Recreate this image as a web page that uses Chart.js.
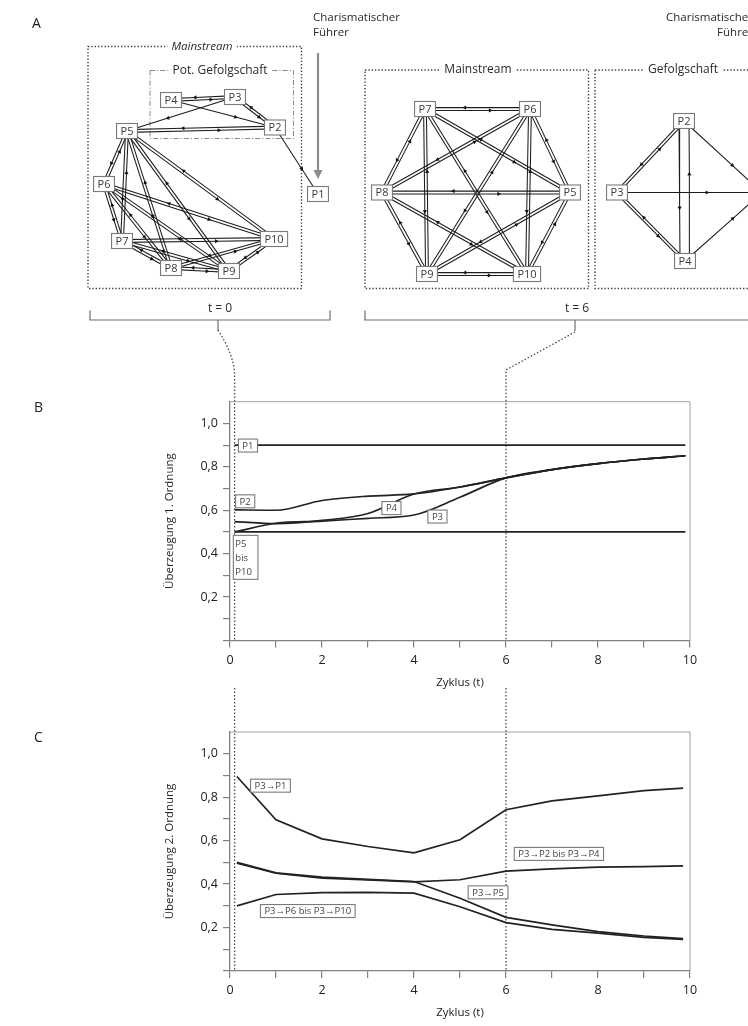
<!DOCTYPE html>
<html>
<head>
<meta charset="utf-8">
<script src="https://cdn.jsdelivr.net/npm/chart.js@4.4.1/dist/chart.umd.min.js"></script>
<style>
body { margin: 0; background: #fff; }
#page { position: relative; width: 748px; height: 1026px; overflow: hidden; }
canvas { position: absolute; left: 0; }
</style>
</head>
<body>
<div id="page">
<canvas id="netA" width="748" height="340" style="top:0px"></canvas>
<canvas id="chartB" width="748" height="380" style="top:320px"></canvas>
<canvas id="chartC" width="748" height="346" style="top:680px"></canvas>
</div>
<script>
Chart.defaults.font.family = "'Open Sans', 'DejaVu Sans', sans-serif";
Chart.defaults.color = '#2a2a2a';

// ---------- panel A: network at t = 0 ----------
const t0Names = ['P1', 'P2', 'P3', 'P4', 'P5', 'P6', 'P7', 'P8', 'P9', 'P10'];
const t0X = [318, 275, 235, 171, 127, 104, 122, 171, 229, 274];
const t0Y = [194, 127.5, 97, 100, 131, 184, 241, 268, 271, 239];
const t0Double = [
    ['P4', 'P3'], ['P3', 'P2'], ['P5', 'P2'],
    ['P5', 'P6'], ['P5', 'P7'], ['P5', 'P8'], ['P5', 'P9'], ['P5', 'P10'],
    ['P6', 'P7'], ['P6', 'P8'], ['P6', 'P9'], ['P6', 'P10'],
    ['P7', 'P8'], ['P7', 'P9'], ['P7', 'P10'],
    ['P8', 'P9'], ['P8', 'P10'], ['P9', 'P10']
];
const t0Single = [['P4', 'P2'], ['P3', 'P5'], ['P2', 'P1']];

// ---------- panel A: network at t = 6 ----------
const t6Names = ['P1', 'P2', 'P3', 'P4', 'P5', 'P6', 'P7', 'P8', 'P9', 'P10'];
const t6X = [762, 684, 617, 685, 570, 530, 425, 382, 427, 527];
const t6Y = [192.5, 121, 192.5, 261, 192.5, 109, 109, 192.5, 274, 274];
const t6Double = [
    ['P7', 'P6'], ['P7', 'P8'], ['P7', 'P5'], ['P7', 'P9'], ['P7', 'P10'],
    ['P6', 'P8'], ['P6', 'P5'], ['P6', 'P9'], ['P6', 'P10'],
    ['P8', 'P5'], ['P8', 'P9'], ['P8', 'P10'],
    ['P5', 'P9'], ['P5', 'P10'], ['P9', 'P10'],
    ['P3', 'P2'], ['P3', 'P4'], ['P2', 'P4']
];
const t6Single = [['P3', 'P1'], ['P2', 'P1'], ['P4', 'P1']];
const wideEdges = ['P2-P4'];

// ---------- panel B: Überzeugung 1. Ordnung ----------
const cyclesB = [0.1, 1, 2, 3, 4, 5, 6, 7, 8, 9, 9.9];
const p1B = [0.9, 0.9, 0.9, 0.9, 0.9, 0.9, 0.9, 0.9, 0.9, 0.9, 0.9];
const p2B = [0.602, 0.6, 0.645, 0.665, 0.675, 0.707, 0.749, 0.787, 0.815, 0.836, 0.851];
const p3B = [0.5, 0.54, 0.55, 0.563, 0.578, 0.66, 0.749, 0.787, 0.815, 0.836, 0.851];
const p4B = [0.548, 0.538, 0.553, 0.585, 0.675, 0.707, 0.749, 0.787, 0.815, 0.836, 0.851];
const p5to10B = [0.5, 0.5, 0.5, 0.5, 0.5, 0.5, 0.5, 0.5, 0.5, 0.5, 0.5];
const tagsB = ['P1', 'P2', 'P4', 'P3', 'P5\nbis\nP10'];
const tagsBT = [0.39, 0.33, 3.51, 4.51, 0.34];
const tagsBV = [0.898, 0.641, 0.61, 0.571, 0.383];

// ---------- panel C: Überzeugung 2. Ordnung ----------
const cyclesC = [0.15, 1, 2, 3, 4, 5, 6, 7, 8, 9, 9.85];
const p3p1C = [0.895, 0.696, 0.608, 0.573, 0.544, 0.604, 0.742, 0.783, 0.806, 0.83, 0.842];
const p3p2to4C = [0.496, 0.45, 0.427, 0.419, 0.41, 0.42, 0.46, 0.47, 0.478, 0.48, 0.484];
const p3p5C = [0.5, 0.452, 0.432, 0.422, 0.412, 0.335, 0.247, 0.212, 0.181, 0.161, 0.149];
const p3p6to10C = [0.3, 0.352, 0.361, 0.362, 0.358, 0.296, 0.223, 0.192, 0.174, 0.155, 0.146];
const tagsC = ['P3→P1', 'P3→P2 bis P3→P4', 'P3→P5', 'P3→P6 bis P3→P10'];
const tagsCT = [0.88, 7.15, 5.61, 1.69];
const tagsCV = [0.853, 0.539, 0.362, 0.276];

const markCycles = [0.1, 6];

// layout of panel A decorations (page pixels)
const bracketY = 320;
const bracketT0 = {x0: 90, x1: 330, mid: 218, text: 't = 0'};
const bracketT6 = {x0: 365, x1: 760, mid: 575, text: 't = 6'};

function edgeSets(names, xs, ys, doubles, singles) {
    const pos = n => { const i = names.indexOf(n); return [xs[i], ys[i]]; };
    const sets = [];
    const addLine = (a, b, off) => {
        const dx = b[0] - a[0], dy = b[1] - a[1], len = Math.hypot(dx, dy);
        const nx = -dy / len * off, ny = dx / len * off;
        const p0 = {x: a[0] + nx, y: a[1] + ny};
        const p1 = {x: b[0] + nx, y: b[1] + ny};
        const m = {x: p0.x + (p1.x - p0.x) * 0.62, y: p0.y + (p1.y - p0.y) * 0.62};
        sets.push({
            data: [p0, m, p1],
            showLine: true,
            borderColor: '#1c1c1c',
            borderWidth: 1.05,
            pointRadius: [0, 2.4, 0],
            pointStyle: 'triangle',
            pointRotation: Math.atan2(dy, dx) * 180 / Math.PI + 90,
            pointBackgroundColor: '#111',
            pointBorderWidth: 0
        });
    };
    doubles.forEach(([a, b]) => {
        const gap = wideEdges.includes(a + '-' + b) ? 5 : 1.4;
        addLine(pos(a), pos(b), gap);
        addLine(pos(b), pos(a), gap);
    });
    singles.forEach(([a, b]) => addLine(pos(a), pos(b), 0));
    return sets;
}

function dottedRect(ctx, x0, y0, x1, y1, dash, color, width) {
    ctx.save();
    ctx.setLineDash(dash);
    ctx.strokeStyle = color;
    ctx.lineWidth = width;
    ctx.strokeRect(x0, y0, x1 - x0, y1 - y0);
    ctx.restore();
}

function boxLabel(ctx, text, cx, cy, font) {
    ctx.save();
    ctx.font = font;
    const w = ctx.measureText(text).width + 8;
    ctx.fillStyle = '#fff';
    ctx.fillRect(cx - w / 2, cy - 7, w, 14);
    ctx.fillStyle = '#2a2a2a';
    ctx.textAlign = 'center';
    ctx.textBaseline = 'middle';
    ctx.fillText(text, cx, cy);
    ctx.restore();
}

const netDecor = {
    id: 'netDecor',
    beforeDatasetsDraw(chart) {
        const {ctx, scales: {x, y}} = chart;
        const px = v => x.getPixelForValue(v), py = v => y.getPixelForValue(v);
        const dots = [1.4, 1.9];
        dottedRect(ctx, px(88), py(46.5), px(301.5), py(288.5), dots, '#444', 1.4);
        dottedRect(ctx, px(150), py(70.5), px(293.5), py(138.5), [5, 2, 1.2, 2], '#888', 1);
        dottedRect(ctx, px(365), py(70), px(588.5), py(288.5), dots, '#444', 1.4);
        dottedRect(ctx, px(595), py(70), px(770), py(288.5), dots, '#444', 1.4);
        boxLabel(ctx, 'Mainstream', px(202), py(46.5), "italic 11.5px 'Open Sans'");
        boxLabel(ctx, 'Pot. Gefolgschaft', px(220), py(70.5), "12px 'Open Sans'");
        boxLabel(ctx, 'Mainstream', px(478), py(70), "12px 'Open Sans'");
        boxLabel(ctx, 'Gefolgschaft', px(683), py(70), "12px 'Open Sans'");
    },
    afterDatasetsDraw(chart) {
        const {ctx, scales: {x, y}} = chart;
        const px = v => x.getPixelForValue(v), py = v => y.getPixelForValue(v);
        ctx.save();
        // node boxes
        ctx.font = "11px 'Open Sans'";
        ctx.textAlign = 'center';
        ctx.textBaseline = 'middle';
        const drawNodes = (names, xs, ys) => names.forEach((n, i) => {
            const cx = px(xs[i]), cy = py(ys[i]);
            const w = ctx.measureText(n).width + 8, h = 15;
            ctx.fillStyle = '#fff';
            ctx.fillRect(cx - w / 2, cy - h / 2, w, h);
            ctx.strokeStyle = '#7a7a7a';
            ctx.lineWidth = 1.1;
            ctx.strokeRect(cx - w / 2, cy - h / 2, w, h);
            ctx.fillStyle = '#3a3a3a';
            ctx.fillText(n, cx, cy + 0.5);
        });
        drawNodes(t0Names, t0X, t0Y);
        drawNodes(t6Names, t6X, t6Y);

        // panel letter and headings
        ctx.fillStyle = '#222';
        ctx.font = "14px 'Open Sans'";
        ctx.textAlign = 'left';
        ctx.fillText('A', px(32), py(24));
        ctx.font = "11.5px 'Open Sans'";
        ctx.fillStyle = '#2a2a2a';
        ctx.fillText('Charismatischer', px(313), py(18));
        ctx.fillText('Führer', px(313), py(33));
        ctx.textAlign = 'right';
        ctx.fillText('Charismatischer', px(753), py(18));
        ctx.fillText('Führer', px(753), py(33));

        // arrow of the charismatic leader
        ctx.strokeStyle = '#8c8c8c';
        ctx.fillStyle = '#8c8c8c';
        ctx.lineWidth = 2.2;
        ctx.beginPath();
        ctx.moveTo(px(318), py(53));
        ctx.lineTo(px(318), py(172));
        ctx.stroke();
        ctx.beginPath();
        ctx.moveTo(px(313.5), py(170));
        ctx.lineTo(px(322.5), py(170));
        ctx.lineTo(px(318), py(179));
        ctx.closePath();
        ctx.fill();

        // brackets
        ctx.strokeStyle = '#6e6e6e';
        ctx.lineWidth = 1.2;
        [bracketT0, bracketT6].forEach(b => {
            ctx.beginPath();
            ctx.moveTo(px(b.x0), py(bracketY - 9.5));
            ctx.lineTo(px(b.x0), py(bracketY));
            ctx.lineTo(px(b.x1), py(bracketY));
            ctx.lineTo(px(b.x1), py(bracketY - 9.5));
            ctx.moveTo(px(b.mid), py(bracketY));
            ctx.lineTo(px(b.mid), py(bracketY + 11));
            ctx.stroke();
            ctx.font = "12px 'Open Sans'";
            ctx.fillStyle = '#2a2a2a';
            ctx.textAlign = 'center';
            ctx.fillText(b.text, px(b.mid + 2), py(bracketY - 11));
        });
        ctx.restore();
    }
};

new Chart(document.getElementById('netA'), {
    type: 'scatter',
    data: {
        datasets: edgeSets(t0Names, t0X, t0Y, t0Double, t0Single)
            .concat(edgeSets(t6Names, t6X, t6Y, t6Double, t6Single))
    },
    options: {
        responsive: false,
        animation: false,
        events: [],
        devicePixelRatio: 1,
        layout: {padding: 0},
        plugins: {legend: {display: false}, tooltip: {enabled: false}},
        scales: {
            x: {type: 'linear', display: false, min: 0, max: 748},
            y: {type: 'linear', display: false, min: 0, max: 340, reverse: true}
        }
    },
    plugins: [netDecor]
});

// ---------- line charts B and C ----------
function drawTag(ctx, text, cx, cy) {
    const lines = text.split('\n');
    ctx.font = "9.5px 'Open Sans'";
    const tw = Math.max(...lines.map(l => ctx.measureText(l).width));
    const lh = 14;
    const w = tw + 8, h = lines.length === 1 ? 13 : lines.length * lh + 2;
    ctx.fillStyle = '#fff';
    ctx.fillRect(cx - w / 2, cy - h / 2, w, h);
    ctx.strokeStyle = '#7a7a7a';
    ctx.lineWidth = 1.1;
    ctx.strokeRect(cx - w / 2, cy - h / 2, w, h);
    ctx.fillStyle = '#444';
    ctx.textBaseline = 'middle';
    ctx.textAlign = lines.length === 1 ? 'center' : 'left';
    lines.forEach((l, i) => {
        const ly = cy - (lines.length - 1) * lh / 2 + i * lh;
        ctx.fillText(l, lines.length === 1 ? cx : cx - w / 2 + 2, ly + 0.5);
    });
}

const plotDecor = {
    id: 'plotDecor',
    beforeDatasetsDraw(chart, args, opts) {
        const {ctx, chartArea: a, scales: {x}} = chart;
        ctx.save();
        ctx.strokeStyle = '#a0a0a0';
        ctx.lineWidth = 1;
        ctx.beginPath();
        ctx.moveTo(a.left, a.top);
        ctx.lineTo(a.right, a.top);
        ctx.lineTo(a.right, a.bottom);
        ctx.stroke();

        ctx.setLineDash([1.5, 2]);
        ctx.strokeStyle = '#4a4a4a';
        ctx.lineWidth = 1.3;
        const x0 = x.getPixelForValue(markCycles[0]);
        const x6 = x.getPixelForValue(markCycles[1]);
        ctx.beginPath();
        if (opts.connect) {
            ctx.moveTo(bracketT0.mid, 10);
            ctx.quadraticCurveTo(x0 - 1, 34, x0, 54);
            ctx.lineTo(x0, a.bottom);
            ctx.moveTo(bracketT6.mid, 12);
            ctx.lineTo(x6, 50);
            ctx.lineTo(x6, a.bottom);
        } else {
            ctx.moveTo(x0, opts.dotTop);
            ctx.lineTo(x0, a.bottom);
            ctx.moveTo(x6, opts.dotTop);
            ctx.lineTo(x6, a.bottom);
        }
        ctx.stroke();
        ctx.restore();
    },
    afterDatasetsDraw(chart, args, opts) {
        const {ctx, scales: {x, y}} = chart;
        ctx.save();
        opts.tags.forEach((t, i) => {
            drawTag(ctx, t, x.getPixelForValue(opts.tagT[i]), y.getPixelForValue(opts.tagV[i]));
        });
        ctx.fillStyle = '#222';
        ctx.font = "14px 'Open Sans'";
        ctx.textAlign = 'left';
        ctx.textBaseline = 'middle';
        ctx.fillText(opts.letter, 34, opts.letterY);
        ctx.restore();
    }
};

function series(cycles, values, smooth) {
    return {
        data: cycles.map((t, i) => ({x: t, y: values[i]})),
        borderColor: '#222',
        borderWidth: 1.7,
        pointRadius: 0,
        fill: false,
        cubicInterpolationMode: smooth ? 'monotone' : 'default',
        tension: 0
    };
}

function lineChart(id, datasets, yTitle, pad, axisH, titleBottom, decor) {
    return new Chart(document.getElementById(id), {
        type: 'line',
        data: {datasets: datasets},
        options: {
            responsive: false,
            animation: false,
            events: [],
            devicePixelRatio: 1,
            layout: {padding: {top: pad, left: 150, right: 58, bottom: 0}},
            plugins: {legend: {display: false}, tooltip: {enabled: false}, plotDecor: decor},
            scales: {
                x: {
                    type: 'linear', min: 0, max: 10,
                    afterFit: s => { s.height = axisH; },
                    border: {color: '#808080', width: 1.3},
                    grid: {drawOnChartArea: false, tickLength: 7, color: '#808080', lineWidth: 1.2},
                    ticks: {
                        stepSize: 1, autoSkip: false, maxRotation: 0, padding: 5,
                        font: {size: 12.5}, color: '#222',
                        callback: v => (v % 2 === 0 ? String(v) : '')
                    },
                    title: {display: true, text: 'Zyklus (t)', font: {size: 11.5}, color: '#222',
                        padding: {top: 0, bottom: titleBottom}}
                },
                y: {
                    type: 'linear', min: 0, max: 1.1,
                    afterFit: s => { s.width = 80; },
                    border: {color: '#808080', width: 1.3},
                    grid: {
                        drawOnChartArea: false, tickLength: 7, lineWidth: 1.2,
                        color: c => (c.tick && c.tick.value > 1.05 ? 'rgba(0,0,0,0)' : '#808080')
                    },
                    ticks: {
                        stepSize: 0.1, autoSkip: false, padding: 5,
                        font: {size: 12.5}, color: '#222',
                        callback: v => {
                            const r = Math.round(v * 10);
                            return (r > 0 && r <= 10 && r % 2 === 0) ? (r / 10).toFixed(1).replace('.', ',') : '';
                        }
                    },
                    title: {display: true, text: yTitle, font: {size: 11.5}, color: '#222',
                        padding: {top: 13, bottom: 0}}
                }
            }
        },
        plugins: [plotDecor]
    });
}

lineChart('chartB', [
    series(cyclesB, p1B, true),
    series(cyclesB, p2B, true),
    series(cyclesB, p3B, true),
    series(cyclesB, p4B, true),
    series(cyclesB, p5to10B, true)
], 'Überzeugung 1. Ordnung', 81.7, 59.5, 10,
    {connect: true, tags: tagsB, tagT: tagsBT, tagV: tagsBV, letter: 'B', letterY: 88});

lineChart('chartC', [
    series(cyclesC, p3p1C, false),
    series(cyclesC, p3p2to4C, false),
    series(cyclesC, p3p5C, false),
    series(cyclesC, p3p6to10C, false)
], 'Überzeugung 2. Ordnung', 52, 55, 6,
    {connect: false, dotTop: 8, tags: tagsC, tagT: tagsCT, tagV: tagsCV, letter: 'C', letterY: 58});
</script>
</body>
</html>
